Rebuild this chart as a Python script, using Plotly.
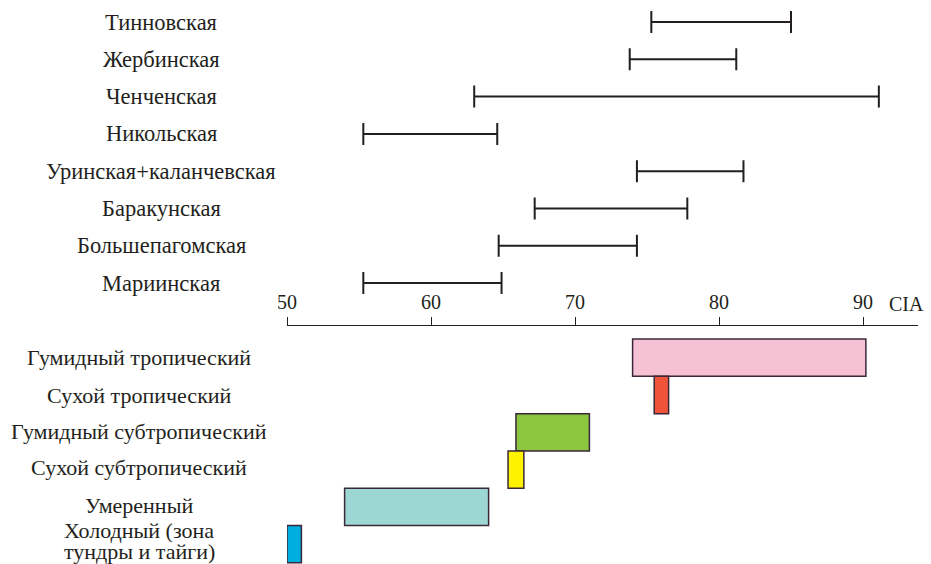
import plotly.graph_objects as go

# ---- data ----
formations = ["Тинновская", "Жербинская", "Ченченская", "Никольская",
              "Уринская+каланчевская", "Баракунская", "Большепагомская", "Мариинская"]
cia_min = [75.3, 73.8, 63.0, 55.3, 74.3, 67.2, 64.7, 55.3]
cia_max = [85.0, 81.2, 91.1, 64.6, 81.7, 77.8, 74.3, 64.9]

climates = ["Гумидный тропический", "Сухой тропический", "Гумидный субтропический",
            "Сухой субтропический", "Умеренный", "Холодный (зона<br>тундры и тайги)"]
clim_min = [74.0, 75.5, 65.9, 65.35, 54.0, 50.0]
clim_max = [90.2, 76.5, 71.0, 66.45, 64.0, 51.0]
clim_colors = ["#f6c1d3", "#ef543a", "#8cc63f", "#fff200", "#9dd7d3", "#00aee0"]

tick_vals = [50, 60, 70, 80, 90]
axis_label = "CIA"

# ---- layout constants ----
W, H = 931, 564
FONT = "Liberation Serif"
INK = "#231f20"
FS_TOP = 22.5
FS_BOTTOM = 22
FS_TICK = 20

form_rows = list(range(len(formations)))
clim_rows = [len(formations) + 1 + i for i in range(len(climates))]

mid = [(a + b) / 2 for a, b in zip(cia_min, cia_max)]
half = [(b - a) / 2 for a, b in zip(cia_min, cia_max)]

fig = go.Figure()
fig.add_trace(go.Scatter(
    x=mid, y=form_rows, mode="markers",
    marker=dict(size=1, opacity=0),
    error_x=dict(type="data", array=half, symmetric=True, thickness=2,
                 width=11, color=INK),
    cliponaxis=False, hoverinfo="skip", showlegend=False))

fig.add_trace(go.Bar(
    orientation="h", y=clim_rows,
    x=[b - a for a, b in zip(clim_min, clim_max)], base=clim_min,
    width=1, marker=dict(color=clim_colors, line=dict(color="#3a2838", width=1.5)),
    cliponaxis=False, hoverinfo="skip", showlegend=False))

annotations = []
for name, r in zip(formations, form_rows):
    annotations.append(dict(x=161 / W, xref="paper", y=r, yref="y", text=name,
                            showarrow=False, xanchor="center", yanchor="middle",
                            font=dict(family=FONT, size=FS_TOP, color=INK)))
clim_shift = [0, 0, 1, 2.5, 1, 3]
line_gap = 21
for name, r, s in zip(climates, clim_rows, clim_shift):
    lines = name.split("<br>")
    n = len(lines)
    for k, ln in enumerate(lines):
        off = (k - (n - 1) / 2) * line_gap
        annotations.append(dict(x=139 / W, xref="paper", y=r, yref="y", text=ln,
                                showarrow=False, xanchor="center", yanchor="middle",
                                yshift=s - off,
                                font=dict(family=FONT, size=FS_BOTTOM, color=INK)))
annotations.append(dict(x=906 / W, xref="paper", y=(H - 304) / H, yref="paper",
                        text=axis_label, showarrow=False, xanchor="center",
                        yanchor="middle", font=dict(family=FONT, size=FS_TICK, color=INK)))

x_left, x_right = 287, 918
px_per_unit = 14.4
row0, row_step = 22, 37.3

fig.update_layout(
    width=W, height=H, autosize=False,
    margin=dict(l=0, r=0, t=0, b=0, pad=0, autoexpand=False),
    paper_bgcolor="white", plot_bgcolor="rgba(0,0,0,0)",
    showlegend=False,
    annotations=annotations,
    xaxis=dict(domain=[x_left / W, x_right / W],
               range=[50, 50 + (x_right - x_left) / px_per_unit],
               anchor="free", position=(H - 325) / H, side="top",
               showline=True, linecolor=INK, linewidth=1,
               ticks="outside", ticklen=8, tickwidth=1, tickcolor=INK,
               tickvals=tick_vals, showgrid=False, zeroline=False,
               automargin=False,
               tickfont=dict(family=FONT, size=FS_TICK, color=INK)),
    yaxis=dict(domain=[0, 1], range=[(H - row0) / row_step, -row0 / row_step],
               visible=False, showgrid=False, zeroline=False, automargin=False),
)

fig.write_html("out.html",
               config={"responsive": False, "displayModeBar": False},
               post_script="document.body.style.margin='0px';")
